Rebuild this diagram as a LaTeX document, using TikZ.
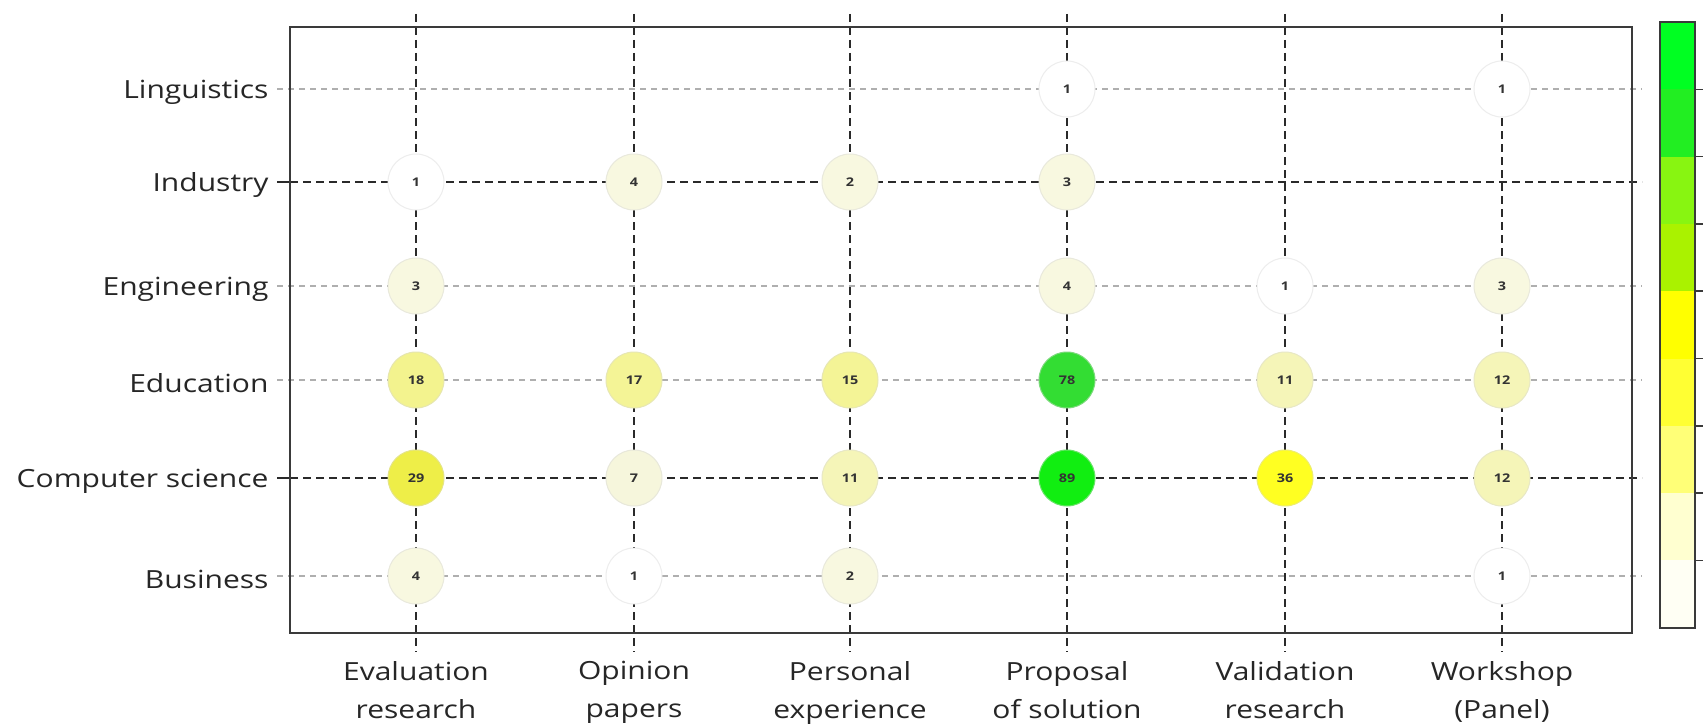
\documentclass[tikz,border=0pt]{standalone}
\usepackage{fontspec}
\setmainfont{Open Sans}
\newfontfamily\labfont[FakeStretch=1.2]{Open Sans}
\definecolor{frameC}{HTML}{3A3A3A}
\definecolor{gridD}{HTML}{2A2A2A}
\definecolor{gridL}{HTML}{AFAFAF}
\definecolor{vA}{HTML}{FFFFFF}
\definecolor{vB}{HTML}{F8F8E0}
\definecolor{vC}{HTML}{F6F6DC}
\definecolor{vD}{HTML}{F5F5B8}
\definecolor{vE}{HTML}{F4F496}
\definecolor{vF}{HTML}{F3F38E}
\definecolor{vG}{HTML}{EEEE48}
\definecolor{vH}{HTML}{FFFF22}
\definecolor{vI}{HTML}{33DD33}
\definecolor{vJ}{HTML}{11EE11}
\definecolor{cb1}{HTML}{00FF22}
\definecolor{cb2}{HTML}{22EE22}
\definecolor{cb3}{HTML}{88F511}
\definecolor{cb4}{HTML}{AAF200}
\definecolor{cb5}{HTML}{FFFF00}
\definecolor{cb6}{HTML}{FFFF33}
\definecolor{cb7}{HTML}{FFFF77}
\definecolor{cb8}{HTML}{FFFFD0}
\definecolor{cb9}{HTML}{FFFFF4}
\tikzset{
  darkgrid/.style={draw=gridD, line width=2pt, dash pattern=on 8pt off 5pt},
  lightgrid/.style={draw=gridL, line width=2pt, dash pattern=on 6pt off 5pt},
  vgrid/.style={draw=gridD, line width=2pt, dash pattern=on 8pt off 5pt},
  bubble/.style={circle, minimum size=56pt, inner sep=0pt, line width=1pt,
    font=\labfont\bfseries\fontsize{12}{14}\selectfont, text=black!80},
  rowlab/.style={anchor=east, font=\labfont\fontsize{25}{30}\selectfont, text=black!85},
  collab/.style={anchor=north, align=center, font=\labfont\fontsize{25}{38}\selectfont, text=black!85},
}
\begin{document}
\begin{tikzpicture}[x=1pt,y=-1pt]
\useasboundingbox (0,0) rectangle (1703,725);
\fill[white] (0,0) rectangle (1703,725);

% frame of the plot area
\coordinate (fnw) at (290,27);
\coordinate (fse) at (1632,633);

% row positions and labels
\foreach \nm/\y/\txt in {rL/89/Linguistics, rI/182/Industry, rE/286/Engineering,
                         rD/380/Education, rC/478/Computer science, rB/576/Business}{
  \node[rowlab] (\nm) at (272,\y+3) {\txt};
  \coordinate (\nm-a) at (277,\y);
  \coordinate (\nm-b) at (1642,\y);
}
% column positions and labels
\foreach \nm/\x/\txt in {cE/416/{Evaluation\\research}, cO/634/{Opinion\\papers},
                         cP/850/{Personal\\experience}, cS/1067/{Proposal\\of solution},
                         cV/1285/{Validation\\research}, cW/1502/{Workshop\\(Panel)}}{
  \node[collab] (\nm) at (\x,658) {\txt};
  \coordinate (\nm-a) at (\x,14);
  \coordinate (\nm-b) at (\x,652);
}

% grid lines
\foreach \r in {rL,rE,rD,rB} \draw[lightgrid] (\r-a) -- (\r-b);
\foreach \r in {rI,rC} \draw[darkgrid] (\r-a) -- (\r-b);
\draw[draw=gridD, line width=2pt] (rI-a) -- (fnw|-rI-a);
\draw[draw=gridD, line width=2pt] (rC-a) -- (fnw|-rC-a);
\foreach \c in {cE,cO,cP,cS,cV,cW} \draw[vgrid] (\c-a) -- (\c-b);

\draw[frameC, line width=2pt] (fnw) rectangle (fse);

% bubbles
\foreach \r/\c/\v/\col in {
  rL/cS/1/vA, rL/cW/1/vA,
  rI/cE/1/vA, rI/cO/4/vB, rI/cP/2/vB, rI/cS/3/vB,
  rE/cE/3/vB, rE/cS/4/vB, rE/cV/1/vA, rE/cW/3/vB,
  rD/cE/18/vF, rD/cO/17/vE, rD/cP/15/vE, rD/cS/78/vI, rD/cV/11/vD, rD/cW/12/vD,
  rC/cE/29/vG, rC/cO/7/vC, rC/cP/11/vD, rC/cS/89/vJ, rC/cV/36/vH, rC/cW/12/vD,
  rB/cE/4/vB, rB/cO/1/vA, rB/cP/2/vB, rB/cW/1/vA}{
  \node[bubble, fill=\col, draw=\col!80!gray!70] (b-\r-\c) at (\c-a|-\r-a) {\v};
}

% colour scale
\foreach \i/\col in {1/cb1,2/cb2,3/cb3,4/cb4,5/cb5,6/cb6,7/cb7,8/cb8,9/cb9}{
  \fill[\col] (1660,{22+(\i-1)*67.3}) rectangle (1695,{22+\i*67.3});
}
\draw[frameC, line width=2pt] (1660,22) rectangle (1695,628);
\foreach \i in {1,...,8}{
  \draw[frameC, line width=1.5pt] (1695,{22+\i*67.3}) -- (1703,{22+\i*67.3});
}
\end{tikzpicture}
\end{document}
